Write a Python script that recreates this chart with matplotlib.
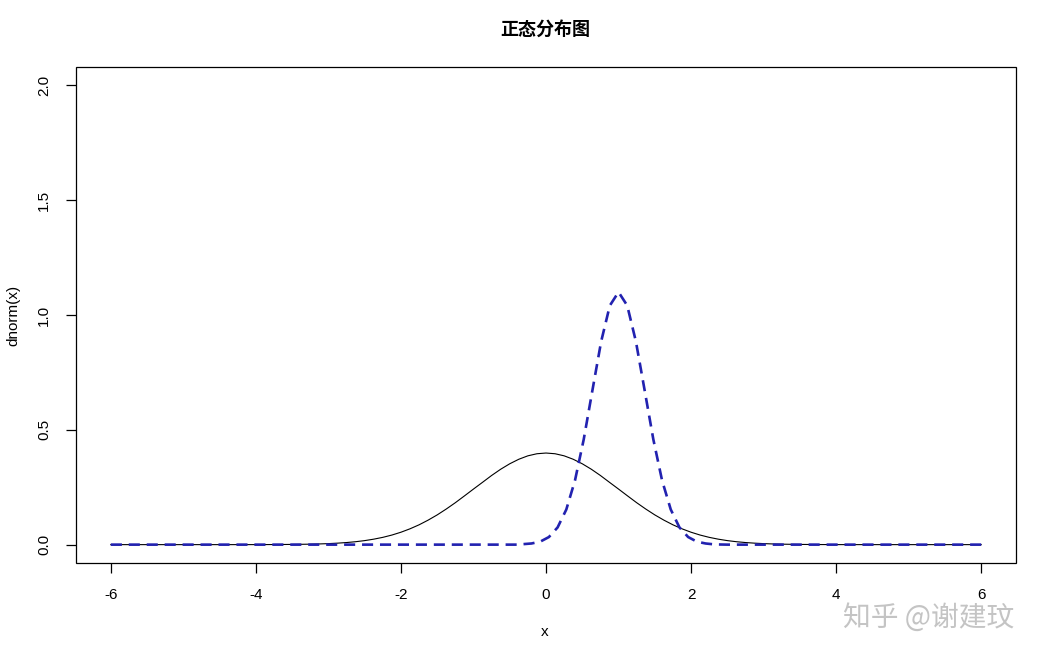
import matplotlib
matplotlib.use("Agg")
import matplotlib.pyplot as plt

plt.rcParams['font.family'] = ['Liberation Sans', 'Noto Sans CJK SC', 'DejaVu Sans']

title = "正态分布图"
x_label = "x"
y_label = "dnorm(x)"
watermark = "知乎 @谢建玟"
x_ticks = [-6, -4, -2, 0, 2, 4, 6]
y_ticks = [0.0, 0.5, 1.0, 1.5, 2.0]
y_tick_labels = ["0.0", "0.5", "1.0", "1.5", "2.0"]

# black solid curve
black_x = [-6.0, -5.5, -5.0, -4.5, -4.0, -3.75, -3.5, -3.25,
           -3.125, -3.0, -2.875, -2.75, -2.625, -2.5, -2.375, -2.25, -2.125, -2.0, -1.875, -1.75, -1.625,
           -1.5, -1.375, -1.25, -1.125, -1.0, -0.875, -0.75, -0.625, -0.5, -0.375, -0.25, -0.125,
           0.0, 0.125, 0.25, 0.375, 0.5, 0.625, 0.75, 0.875, 1.0, 1.125, 1.25, 1.375, 1.5,
           1.625, 1.75, 1.875, 2.0, 2.125, 2.25, 2.375, 2.5, 2.625, 2.75, 2.875, 3.0, 3.125,
           3.25, 3.5, 3.75, 4.0, 4.5, 5.0, 5.5, 6.0]
black_y = [0.0, 0.0, 0.0, 0.0, 0.0001, 0.0004, 0.0009, 0.0020,
           0.0030, 0.0044, 0.0064, 0.0091, 0.0127, 0.0175, 0.0238, 0.0317, 0.0417, 0.0540, 0.0689, 0.0863, 0.1067,
           0.1295, 0.1551, 0.1826, 0.2121, 0.2420, 0.2714, 0.3011, 0.3283, 0.3521, 0.3718, 0.3867, 0.3958,
           0.3989, 0.3958, 0.3867, 0.3718, 0.3521, 0.3283, 0.3011, 0.2714, 0.2420, 0.2121, 0.1826, 0.1551, 0.1295,
           0.1067, 0.0863, 0.0689, 0.0540, 0.0417, 0.0317, 0.0238, 0.0175, 0.0127, 0.0091, 0.0064, 0.0044, 0.0030,
           0.0020, 0.0009, 0.0004, 0.0001, 0.0, 0.0, 0.0, 0.0]

# blue dashed curve
blue_x = [-6.0, -0.4, -0.2, -0.08, 0.04, 0.16, 0.28, 0.40, 0.52, 0.64, 0.76, 0.88, 1.00,
          1.12, 1.24, 1.36, 1.48, 1.60, 1.72, 1.84, 1.96, 2.08, 2.20, 2.32, 2.5, 6.0]
blue_y = [0.0, 0.0, 0.005, 0.013, 0.033, 0.075, 0.153, 0.280, 0.458, 0.672, 0.884, 1.041, 1.100,
          1.041, 0.884, 0.672, 0.458, 0.280, 0.153, 0.075, 0.033, 0.013, 0.005, 0.001, 0.0, 0.0]

fig = plt.figure(figsize=(10.5, 6.54), dpi=100)
ax = fig.add_axes([76/1050, 1 - 563/654, 940/1050, 496/654])

ax.plot(black_x, black_y, color='black', lw=0.8)
ax.plot(blue_x, blue_y, color='#2222b0', lw=1.9, ls=(0, (4.2, 2.6)))

ax.set_xlim(-6.48, 6.48)
ax.set_ylim(-0.08, 2.08)

for s in ['top', 'right', 'left', 'bottom']:
    ax.spines[s].set_visible(False)
# full box
ax.add_patch(plt.Rectangle((0, 0), 1, 1, transform=ax.transAxes, fill=False, lw=0.9,
                           color='black', clip_on=False))

ax.set_xticks(x_ticks)
ax.set_xticklabels([str(v) for v in x_ticks])
ax.set_yticks(y_ticks)
ax.set_yticklabels(y_tick_labels, rotation=90, va='center')
ax.tick_params(axis='both', direction='out', length=7, width=0.9, labelsize=11, pad=11, colors='black')

fig.text(545/1050, 1 - 29/654, title, ha='center', va='center', fontsize=13, fontweight='bold',
         family=['Noto Sans CJK SC', 'DejaVu Sans'])
fig.text(545/1050, 1 - 632/654, x_label, ha='center', va='center', fontsize=11)
fig.text(13/1050, 1 - 315/654, y_label, ha='center', va='center', fontsize=11, rotation=90)
fig.text(929/1050, 1 - 618/654, watermark, ha='center', va='center', fontsize=20, color='#c4c4c4',
         family=['Noto Sans CJK SC', 'DejaVu Sans'])

fig.savefig('out.png', dpi=100, facecolor='white')
